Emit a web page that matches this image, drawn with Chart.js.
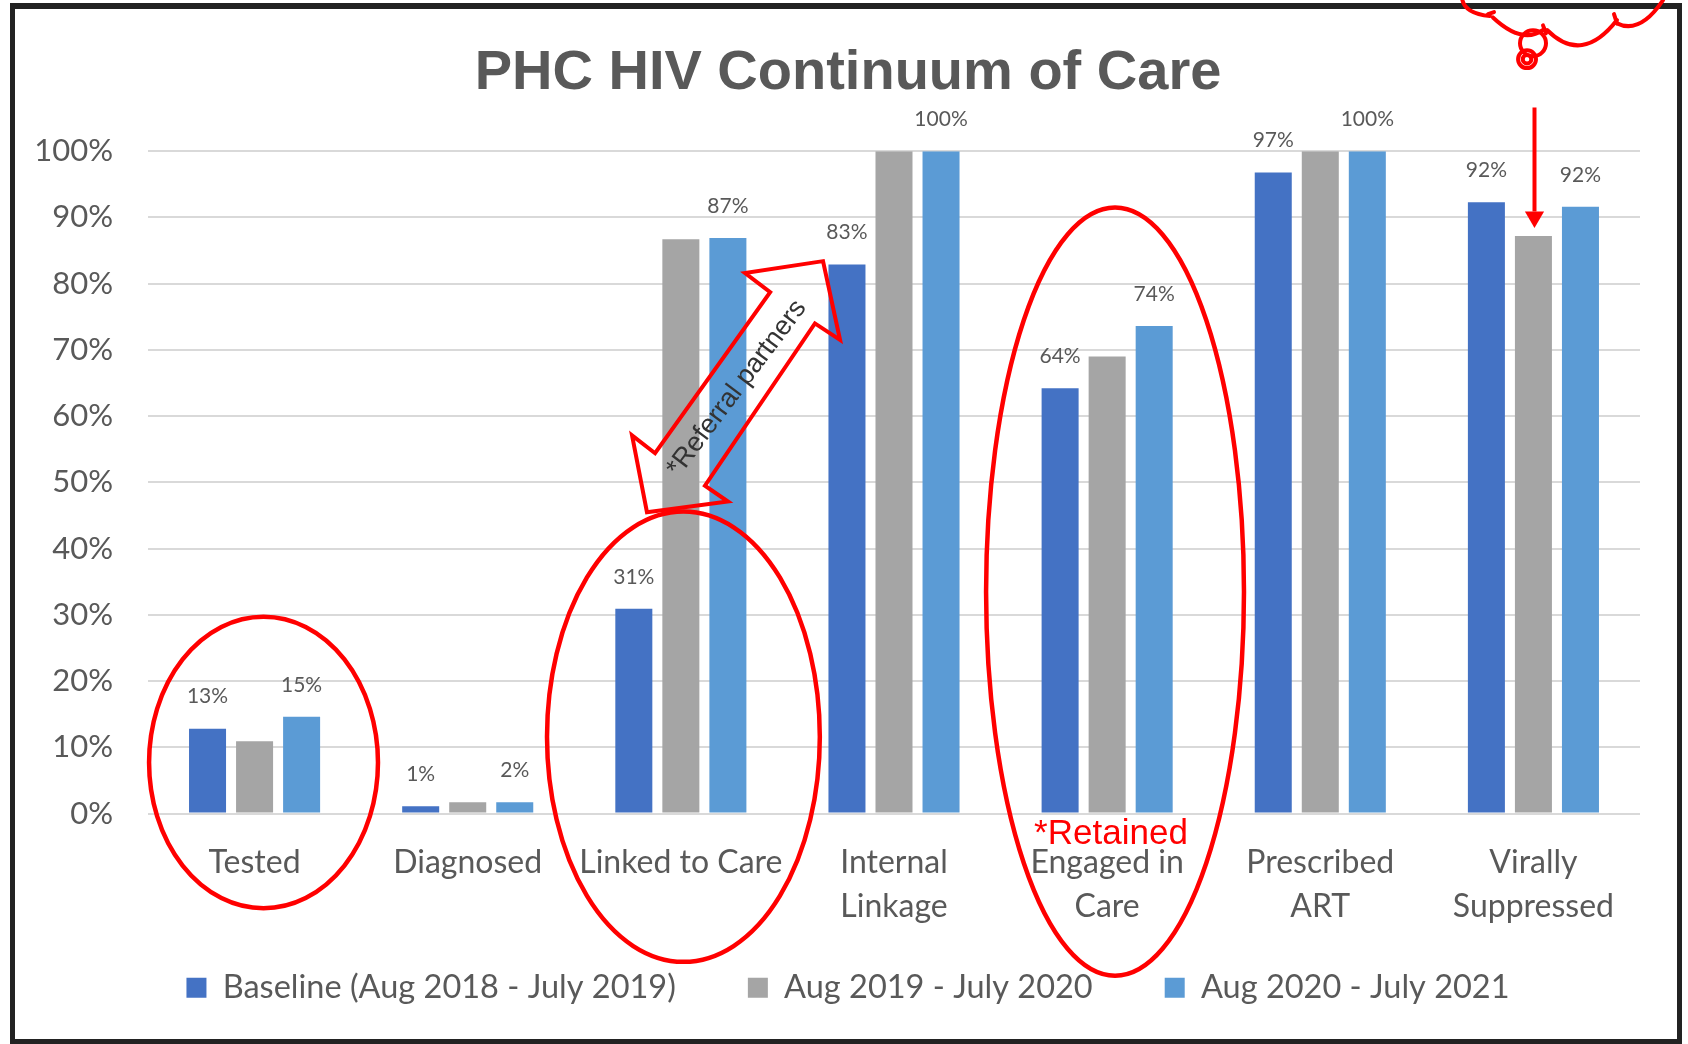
<!DOCTYPE html>
<html>
<head>
<meta charset="utf-8">
<title>PHC HIV Continuum of Care</title>
<script src="https://cdn.jsdelivr.net/npm/chart.js@4.4.1/dist/chart.umd.min.js"></script>
<style>
  html, body { margin: 0; padding: 0; background: #fff; }
  #wrap { position: relative; width: 1688px; height: 1044px; overflow: hidden; }
  #frame { position: absolute; left: 10px; top: 3px; width: 1672px; height: 1041px; box-sizing: border-box; border: 5px solid #222; border-top-width: 6px; }
  #chart { position: absolute; left: 0; top: 0; }
</style>
</head>
<body>
<div id="wrap">
  <div id="frame"></div>
  <canvas id="chart" width="1688" height="1044"></canvas>
</div>
<script>
// Dados do gráfico
const categories = ['Tested', 'Diagnosed', 'Linked to Care', ['Internal', 'Linkage'], ['Engaged in', 'Care'], ['Prescribed', 'ART'], ['Virally', 'Suppressed']];
const seriesNames = ['Baseline (Aug 2018 - July 2019)', 'Aug 2019 - July 2020', 'Aug 2020 - July 2021'];
const baseline = [12.8, 1.1, 30.9, 82.9, 64.2, 96.8, 92.3];
const period2 = [10.9, 1.7, 86.7, 100, 69.0, 100, 87.2];
const period3 = [14.6, 1.7, 86.9, 100, 73.6, 100, 91.6];
const yMin = 0, yMax = 100, yStep = 10;
const labelledSeries = [0, 2]; // only these series have value labels

const colors = ['#4472C4', '#A5A5A5', '#5B9BD5'];
const TEXT = '#595959';
const RED = '#FF0000';

// Anotações em vermelho, em unidades do gráfico (u = categoria, v = %)
const rings = [
  { u: 0.042, v: 7.7, rx: 0.537, ry: 22.0 },
  { u: 2.012, v: 11.6, rx: 0.640, ry: 34.0 },
  { u: 4.037, v: 33.5, rx: 0.605, ry: 58.0 }
];
const arrowOutline = [
  [2.667, 83.4], [2.747, 71.5], [2.629, 74.0], [2.113, 49.5], [2.221, 47.1],
  [1.841, 45.5], [1.771, 57.1], [1.879, 54.4], [2.419, 78.7], [2.301, 81.6]
];
const cloudArcs = [
  [[5.665, 123.1], [5.674, 120.8], [5.796, 120.4]],
  [[5.810, 120.2], [5.946, 116.1], [6.045, 118.3]],
  [[6.064, 118.3], [6.228, 113.0], [6.392, 119.8]],
  [[6.392, 119.3], [6.500, 117.6], [6.608, 122.8]]
];
const cloudTicks = [
  [[5.787, 120.7], [5.815, 121.0]],
  [[6.045, 119.0], [6.059, 117.8]],
  [[6.378, 120.7], [6.392, 119.3]]
];

// Rótulos de valor acima das barras
const barLabels = {
  id: 'barLabels',
  afterDatasetsDraw(chart) {
    const ctx = chart.ctx;
    ctx.save();
    ctx.font = '21px Lato';
    ctx.fillStyle = TEXT;
    ctx.textAlign = 'center';
    ctx.textBaseline = 'middle';
    labelledSeries.forEach(di => {
      chart.getDatasetMeta(di).data.forEach((bar, i) => {
        const v = chart.data.datasets[di].data[i];
        ctx.fillText(Math.round(v) + '%', bar.x, bar.y - 32);
      });
    });
    ctx.restore();
  }
};

// legenda um pouco mais perto dos rótulos do eixo x
const legendLift = {
  id: 'legendLift',
  afterLayout(chart) {
    chart.legend.top -= 29;
    chart.legend.bottom -= 29;
  }
};

// Marcações à mão (círculos, setas, nuvem)
const redInk = {
  id: 'redInk',
  afterDraw(chart) {
    const { ctx, scales: { x, y } } = chart;
    const x0 = x.getPixelForValue(0);
    const cw = x.getPixelForValue(1) - x0;
    const pv = y.getPixelForValue(0) - y.getPixelForValue(1);
    const at = (u, v) => [x0 + u * cw, y.getPixelForValue(v)];

    ctx.save();
    ctx.strokeStyle = RED;
    ctx.lineWidth = 4.5;

    rings.forEach(r => {
      const [cx, cy] = at(r.u, r.v);
      ctx.beginPath();
      ctx.ellipse(cx, cy, r.rx * cw, r.ry * pv, 0, 0, Math.PI * 2);
      ctx.stroke();
    });

    // seta dupla "Referral partners"
    ctx.lineWidth = 4;
    ctx.lineJoin = 'miter';
    ctx.beginPath();
    arrowOutline.forEach((p, i) => {
      const [px, py] = at(p[0], p[1]);
      if (i === 0) ctx.moveTo(px, py); else ctx.lineTo(px, py);
    });
    ctx.closePath();
    ctx.stroke();

    const [tx, ty] = at(2.263, 64.2);
    ctx.save();
    ctx.translate(tx, ty);
    ctx.rotate(-53 * Math.PI / 180);
    ctx.font = '27px "Liberation Sans"';
    ctx.fillStyle = '#333';
    ctx.textAlign = 'center';
    ctx.textBaseline = 'middle';
    ctx.fillText('*Referral partners', 0, 0);
    ctx.restore();

    // *Retained
    const [rx, ry] = at(4.018, -3.2);
    ctx.font = '35px "Liberation Sans"';
    ctx.fillStyle = RED;
    ctx.textAlign = 'center';
    ctx.textBaseline = 'middle';
    ctx.fillText('*Retained', rx, ry);

    // nuvem no canto
    ctx.lineWidth = 4;
    ctx.lineCap = 'round';
    cloudArcs.forEach(a => {
      const s = at(...a[0]), c = at(...a[1]), e = at(...a[2]);
      ctx.beginPath();
      ctx.moveTo(s[0], s[1]);
      ctx.quadraticCurveTo(c[0], c[1], e[0], e[1]);
      ctx.stroke();
    });
    cloudTicks.forEach(t => {
      const s = at(...t[0]), e = at(...t[1]);
      ctx.beginPath();
      ctx.moveTo(s[0], s[1]);
      ctx.lineTo(e[0], e[1]);
      ctx.stroke();
    });
    const c1 = at(5.998, 116.3);
    ctx.beginPath();
    ctx.arc(c1[0], c1[1], 0.061 * cw, 0, Math.PI * 2);
    ctx.stroke();
    const c2 = at(5.970, 113.9);
    ctx.beginPath();
    ctx.arc(c2[0], c2[1], 0.042 * cw, 0, Math.PI * 2);
    ctx.stroke();
    ctx.beginPath();
    ctx.arc(c2[0], c2[1], 0.02 * cw, 0, Math.PI * 2);
    ctx.stroke();

    // seta para baixo
    const top = at(6.005, 106.6), base = at(6.005, 90.9), tip = at(6.005, 88.4);
    const hw = 0.045 * cw;
    ctx.lineCap = 'butt';
    ctx.beginPath();
    ctx.moveTo(top[0], top[1]);
    ctx.lineTo(base[0], base[1]);
    ctx.stroke();
    ctx.fillStyle = RED;
    ctx.beginPath();
    ctx.moveTo(base[0] - hw, base[1]);
    ctx.lineTo(base[0] + hw, base[1]);
    ctx.lineTo(tip[0], tip[1]);
    ctx.closePath();
    ctx.fill();

    ctx.restore();
  }
};

const ctx = document.getElementById('chart').getContext('2d');
const chart = new Chart(ctx, {
  type: 'bar',
  data: {
    labels: categories,
    datasets: [baseline, period2, period3].map((d, i) => ({
      label: seriesNames[i],
      data: d,
      backgroundColor: colors[i],
      borderWidth: 0,
      categoryPercentage: 0.662,
      barPercentage: 0.787
    }))
  },
  options: {
    responsive: false,
    animation: false,
    layout: { padding: { left: 20, right: 12, top: 0, bottom: 1 } },
    plugins: {
      title: {
        display: true,
        text: 'PHC HIV Continuum of Care',
        color: TEXT,
        font: { family: 'Liberation Sans', size: 56, weight: 'bold', lineHeight: 1.2 },
        padding: { top: 40, bottom: 44 }
      },
      legend: {
        position: 'bottom',
        labels: {
          color: TEXT,
          font: { family: 'Lato', size: 32.5 },
          boxWidth: 20,
          boxHeight: 20,
          padding: 72
        }
      },
      tooltip: { enabled: false }
    },
    scales: {
      x: {
        grid: { display: false, drawTicks: false },
        border: { display: false },
        ticks: {
          color: TEXT,
          font: { family: 'Lato', size: 32, lineHeight: 1.375 },
          padding: 27,
          maxRotation: 0,
          autoSkip: false
        },
        afterFit: s => { s.height = 115; }
      },
      y: {
        min: yMin,
        max: yMax,
        grid: { color: '#D9D9D9', lineWidth: 2, drawTicks: false },
        border: { display: false },
        ticks: {
          stepSize: yStep,
          padding: 35,
          color: TEXT,
          font: { family: 'Lato', size: 31 },
          callback: v => v + '%'
        },
        afterFit: s => { s.width = 128; }
      },
      // eixo vazio à direita, só para centralizar título e legenda como no original
      yr: {
        position: 'right',
        grid: { display: false, drawTicks: false },
        border: { display: false },
        ticks: { display: false },
        afterFit: s => { s.width = 36; }
      }
    }
  },
  plugins: [barLabels, legendLift, redInk]
});
</script>
</body>
</html>
